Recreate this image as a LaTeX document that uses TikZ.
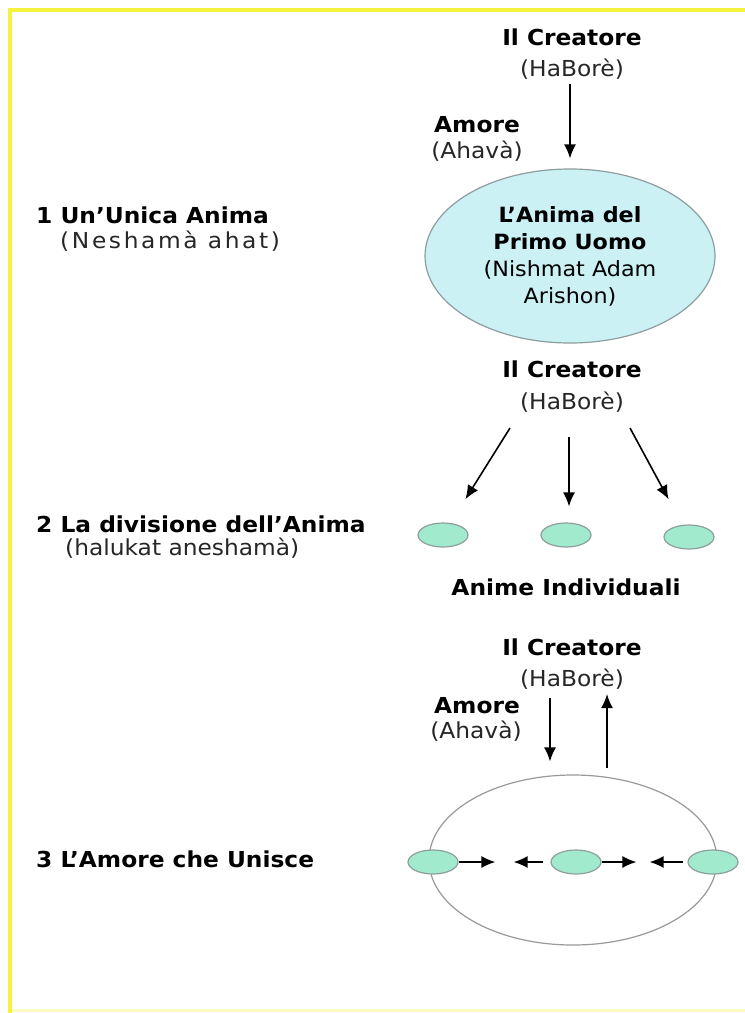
\documentclass[tikz,border=0pt]{standalone}
\usepackage{fontspec}
\setmainfont{DejaVu Sans}[FakeStretch=1.06]
\usetikzlibrary{arrows.meta}
\usetikzlibrary{shapes.geometric}
\definecolor{framey}{HTML}{F4F23C}
\definecolor{adamfill}{HTML}{CBF1F5}
\definecolor{soulfill}{HTML}{A2EACE}
\definecolor{rimgray}{HTML}{8E9E9E}
\tikzset{
	head/.style={font=\bfseries\fontsize{22}{27}\selectfont, inner sep=0pt, text=black},
	trans/.style={font=\fontsize{22}{27}\selectfont, inner sep=0pt, text=black!85},
	soul/.style={ellipse, draw=rimgray, line width=1.2pt, fill=soulfill, minimum width=50pt, minimum height=24pt, inner sep=0pt},
	love/.style={-{Latex[length=14pt, width=12pt]}, line width=1.6pt}
}

\begin{document}
\begin{tikzpicture}[x=1pt, y=-1pt]

	\useasboundingbox (0, 0) rectangle (745, 1013);
	\fill[white] (0, 0) rectangle (745, 1013);

	% frame
	\draw[framey, line width=4pt] (745, 10) -- (10, 10) -- (10, 1013);
	\draw[framey!30, line width=3pt] (12, 1010) -- (745, 1010);

	% --- 1 one soul ---
	\node[head, anchor=base west] (step1) at (36, 223) {1 Un’Unica Anima};
	\node[trans, anchor=base west, font=\fontsize{22}{27}\addfontfeature{LetterSpace=12}\selectfont] (step1sub) at (60, 248) {(Neshamà ahat)};

	\node[head, anchor=base] (cre1) at (572, 45) {Il Creatore};
	\node[trans, anchor=base] (hab1) at (572, 76) {(HaBorè)};
	\node[head, anchor=base] (amo1) at (477, 132) {Amore};
	\node[trans, anchor=base] (aha1) at (477, 158) {(Ahavà)};

	\node[ellipse, draw=rimgray, line width=1.2pt, fill=adamfill, minimum width=290pt, minimum height=174pt, inner sep=0pt, align=center, font=\fontsize{21}{27}\selectfont] (adam) at (570, 256)
		{\textbf{L’Anima del}\\ \textbf{Primo Uomo}\\ (Nishmat Adam\\ Arishon)};

	\draw[love, shorten <=5pt, shorten >=10pt] (hab1.south -| adam.north) -- (adam.north);

	% --- 2 division ---
	\node[head, anchor=base west] (step2) at (36, 532) {2 La divisione dell’Anima};
	\node[trans, anchor=base west] (step2sub) at (65, 555) {(halukat aneshamà)};

	\node[head, anchor=base] (cre2) at (572, 377) {Il Creatore};
	\node[trans, anchor=base] (hab2) at (572, 409) {(HaBorè)};

	\node[soul] (soulA) at (443, 535) {};
	\node[soul] (soulB) at (566, 535) {};
	\node[soul] (soulC) at (689, 537) {};

	\node[head, anchor=base] (indiv) at (566, 595) {Anime Individuali};

	\coordinate (splitA) at (510, 428);
	\coordinate (splitB) at (569, 437);
	\coordinate (splitC) at (630, 428);

	\draw[love, shorten >=28pt] (splitA) -- (soulA);
	\draw[love, shorten >=16pt] (splitB) -- (splitB |- soulB.north);
	\draw[love, shorten >=29pt] (splitC) -- (soulC);

	% --- 3 love that unites ---
	\node[head, anchor=base west] (step3) at (36, 867) {3 L’Amore che Unisce};

	\node[head, anchor=base] (cre3) at (572, 655) {Il Creatore};
	\node[trans, anchor=base] (hab3) at (572, 686) {(HaBorè)};
	\node[head, anchor=base] (amo3) at (477, 713) {Amore};
	\node[trans, anchor=base] (aha3) at (476, 738) {(Ahavà)};

	\node[ellipse, draw=black!40, line width=1.2pt, minimum width=288pt, minimum height=170pt, inner sep=0pt] (union) at (573, 860) {};

	\node[soul] (soulL) at (433, 862) {};
	\node[soul] (soulM) at (576, 862) {};
	\node[soul] (soulR) at (713, 862) {};

	\coordinate (loveIn) at (550, 698);
	\coordinate (loveOut) at (607, 768);

	\draw[love, shorten >=13pt] (loveIn) -- (loveIn |- union.north);
	\draw[love, shorten >=5pt] (loveOut) -- (loveOut |- hab3.south);

	% towards each other
	\draw[love, shorten >=55pt] (soulL) -- (soulM);
	\draw[love, shorten <=7pt, shorten >=55pt] (soulM) -- (soulL);
	\draw[love, shorten >=51pt] (soulM) -- (soulR);
	\draw[love, shorten <=4pt, shorten >=48pt] (soulR) -- (soulM);

\end{tikzpicture}
\end{document}
